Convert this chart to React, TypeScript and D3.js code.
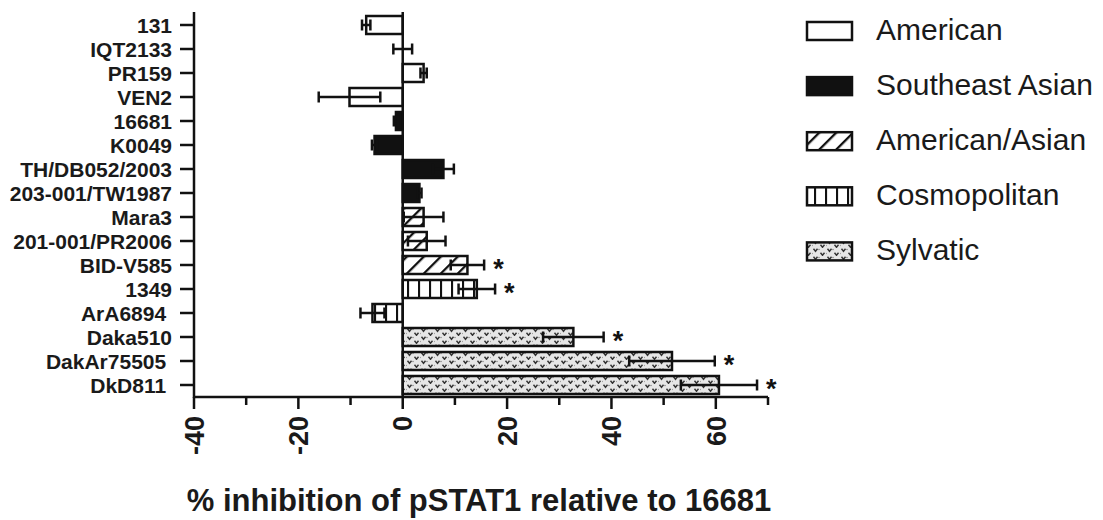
import React from "react";
import * as d3 from "d3";

const categories = [
  "131", "IQT2133", "PR159", "VEN2", "16681", "K0049", "TH/DB052/2003", "203-001/TW1987",
  "Mara3", "201-001/PR2006", "BID-V585", "1349", "ArA6894 ", "Daka510", "DakAr75505 ", "DkD811 ",
];
const values = [-7.0, 0.0, 4.0, -10.2, -1.3, -5.4, 7.8, 3.2, 4.0, 4.6, 12.4, 14.2, -5.8, 32.7, 51.6, 60.6];
const errors = [0.8, 1.8, 0.6, 5.9, 0.4, 0.5, 2.0, 0.4, 3.8, 3.6, 3.2, 3.5, 2.3, 5.8, 8.2, 7.3];
const groupOf = [0, 0, 0, 0, 1, 1, 1, 1, 2, 2, 2, 3, 3, 4, 4, 4];
const significant = [false, false, false, false, false, false, false, false, false, false, true, true, false, true, true, true];
const legendLabels = ["American", "Southeast Asian", "American/Asian", "Cosmopolitan", "Sylvatic"];
const majorTicks = [-40, -20, 0, 20, 40, 60];
const minorTicks = [-30, -10, 10, 30, 50, 70];
const xTitle = "% inhibition of pSTAT1 relative to 16681";

const fills = ["#ffffff", "#111111", "url(#hatch)", "url(#vlines)", "url(#sylv)"];

const FONT = "'Liberation Sans', Arial, Helvetica, sans-serif";

export default function App() {
  const x = d3.scaleLinear().domain([-40, 70]).range([194, 768]);
  const y = d3.scaleBand<string>().domain(categories).range([13, 397]).paddingInner(0.25).paddingOuter(0.125);
  const bw = y.bandwidth();
  const x0 = x(0);
  const yTop = 12;
  const yBot = 397;
  const stroke = "#111";

  return (
    <svg width={1103} height={520} style={{ position: "absolute", left: 0, top: 0, background: "#fff" }}>
      <defs>
        <pattern id="hatch" patternUnits="userSpaceOnUse" width={12} height={12} patternTransform="rotate(45)">
          <rect width={12} height={12} fill="#fff" />
          <line x1={1} y1={0} x2={1} y2={12} stroke={stroke} strokeWidth={2.6} />
        </pattern>
        <pattern id="vlines" patternUnits="userSpaceOnUse" width={11} height={11}>
          <rect width={11} height={11} fill="#fff" />
          <line x1={1} y1={0} x2={1} y2={11} stroke={stroke} strokeWidth={2.2} />
        </pattern>
        <pattern id="sylv" patternUnits="userSpaceOnUse" width={14} height={8}>
          <rect width={14} height={8} fill="#e6e6e6" />
          <path d="M1.5,0.8 L3.5,3.3 L5.5,0.8 M8.5,4.8 L10.5,7.3 L12.5,4.8" fill="none" stroke="#333" strokeWidth={1.4} />
          <circle cx={7} cy={1.5} r={0.7} fill="#777" />
          <circle cx={0} cy={5.5} r={0.7} fill="#777" />
        </pattern>
      </defs>

      {/* bars */}
      {categories.map((c, i) => {
        const v = values[i];
        const yy = y(c)!;
        const xa = Math.min(x(v), x0);
        const w = Math.abs(x(v) - x0);
        return (
          <rect key={"b" + i} x={xa} y={yy} width={w} height={bw}
            fill={fills[groupOf[i]]} stroke={stroke} strokeWidth={2.5} />
        );
      })}

      {/* error bars */}
      {categories.map((c, i) => {
        const v = values[i];
        const e = errors[i];
        const cy = y(c)! + bw / 2;
        const xl = x(v - e);
        const xr = x(v + e);
        return (
          <g key={"e" + i} stroke={stroke} strokeWidth={2.5}>
            <line x1={xl} x2={xr} y1={cy} y2={cy} />
            <line x1={xl} x2={xl} y1={cy - 5.5} y2={cy + 5.5} />
            <line x1={xr} x2={xr} y1={cy - 5.5} y2={cy + 5.5} />
          </g>
        );
      })}

      {/* significance stars */}
      {categories.map((c, i) =>
        significant[i] ? (
          <text key={"s" + i} x={x(values[i] + errors[i]) + 9} y={y(c)! + bw / 2 + 13}
            fontFamily={FONT} fontWeight="bold" fontSize={27} fill="#111">*</text>
        ) : null
      )}

      {/* zero line */}
      <line x1={x0} x2={x0} y1={yTop} y2={yBot} stroke={stroke} strokeWidth={2.5} />

      {/* y axis */}
      <line x1={194} x2={194} y1={yTop} y2={yBot + 1} stroke={stroke} strokeWidth={2.5} />
      {categories.map((c, i) => {
        const cy = y(c)! + bw / 2;
        return (
          <g key={"yt" + i}>
            <line x1={180} x2={194} y1={cy} y2={cy} stroke={stroke} strokeWidth={2.5} />
            <text x={172} y={cy} dy="0.36em" textAnchor="end" fontFamily={FONT} fontWeight="bold"
              fontSize={21} fill="#1a1a1a" style={{ whiteSpace: "pre" }}>{c}</text>
          </g>
        );
      })}

      {/* x axis */}
      <line x1={x(-40)} x2={x(70)} y1={yBot} y2={yBot} stroke={stroke} strokeWidth={2.5} />
      {majorTicks.map((t) => (
        <g key={"mt" + t}>
          <line x1={x(t)} x2={x(t)} y1={yBot} y2={yBot + 12} stroke={stroke} strokeWidth={2.5} />
          <text transform={`translate(${x(t)},416) rotate(-90)`} textAnchor="end" dy="0.36em"
            fontFamily={FONT} fontWeight="bold" fontSize={27} fill="#1a1a1a">{t}</text>
        </g>
      ))}
      {minorTicks.map((t) => (
        <line key={"mn" + t} x1={x(t)} x2={x(t)} y1={yBot} y2={yBot + 8} stroke={stroke} strokeWidth={2.5} />
      ))}
      <text x={479} y={511} textAnchor="middle" fontFamily={FONT} fontWeight="bold" fontSize={31} fill="#1a1a1a">{xTitle}</text>

      {/* legend */}
      {legendLabels.map((l, i) => {
        const cy = 31 + i * 55.1;
        return (
          <g key={"lg" + i}>
            <rect x={807} y={cy - 9} width={45} height={18} fill={fills[i]} stroke={stroke} strokeWidth={2.5} />
            <text x={876} y={cy + 9} fontFamily={FONT} fontSize={30} fill="#1a1a1a">{l}</text>
          </g>
        );
      })}
    </svg>
  );
}
